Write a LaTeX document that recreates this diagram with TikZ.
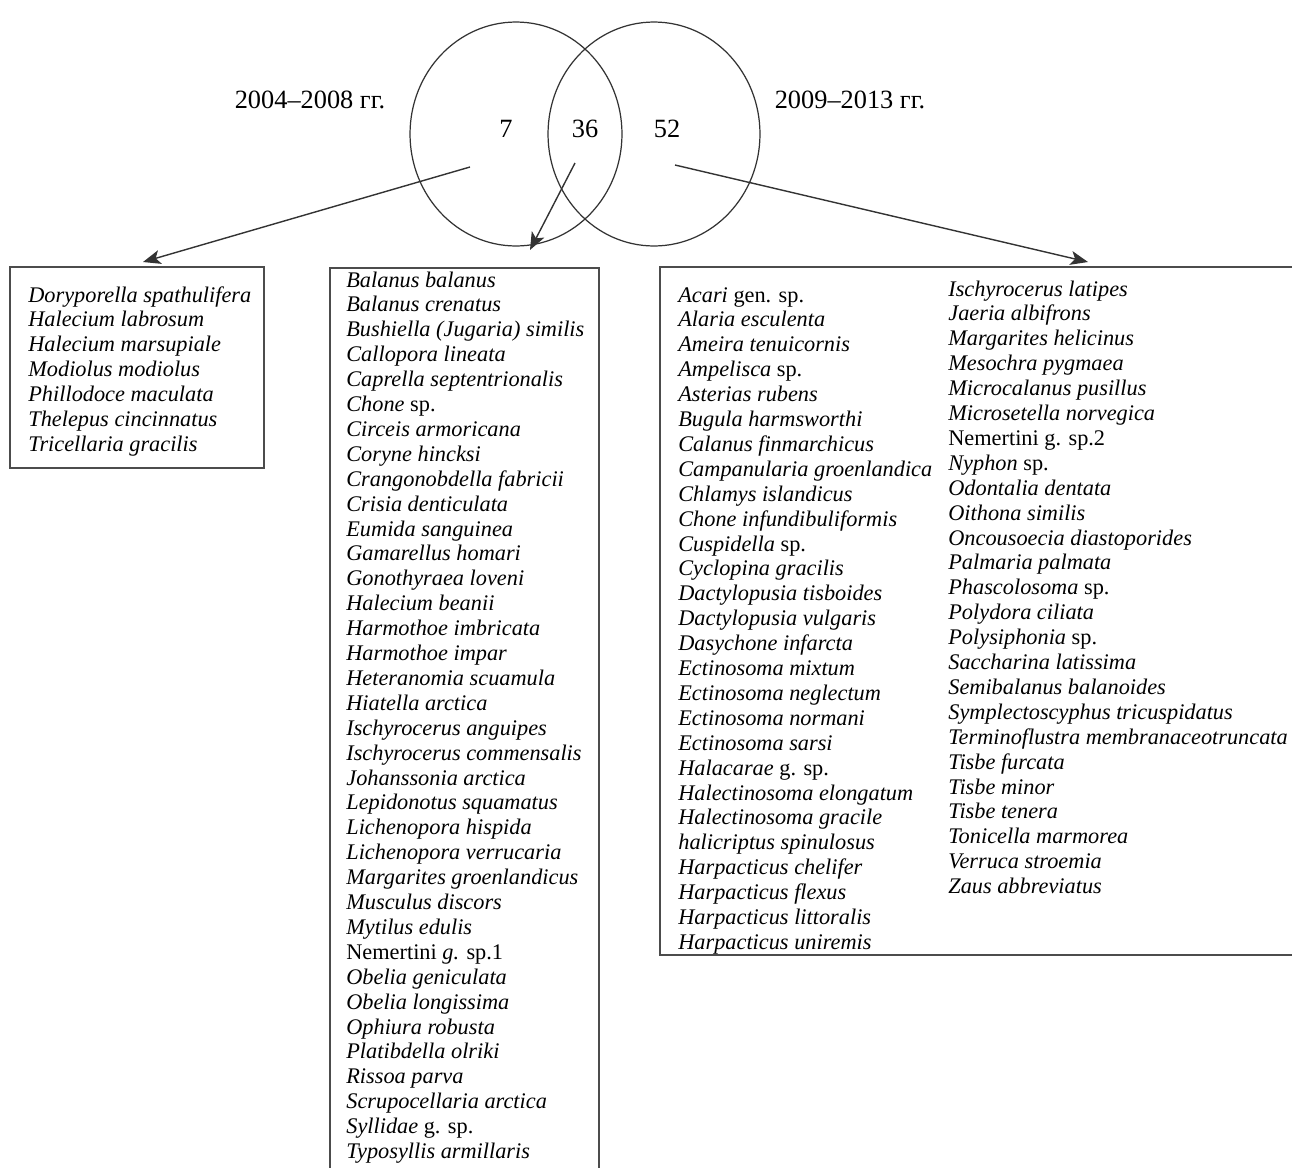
\documentclass[tikz,border=0pt]{standalone}
\usepackage{fontspec}
\setmainfont{Liberation Serif}
\usetikzlibrary{arrows.meta}
\tikzset{
    set circle/.style={draw=black!80, line width=0.7pt},
    list box/.style={draw=black!70, line width=1pt},
    taxon/.style={anchor=base west, inner sep=0pt, font=\fontsize{12.7}{14}\selectfont\itshape},
    period label/.style={anchor=base, inner sep=0pt, font=\fontsize{15}{17}\selectfont},
    count label/.style={period label},
    arr/.style={-{Stealth[length=10pt,width=8pt,inset=2.5pt]}, black!80, line width=0.8pt},
}

\begin{document}
\begin{tikzpicture}[x=0.02cm,y=-0.02cm]
    \useasboundingbox (0,0) rectangle (1292,1167);
    \clip (0,0) rectangle (1292,1167);

    % Venn diagram
    \coordinate (early) at (516,134);
    \coordinate (late) at (654,134);
    \draw[set circle] (early) ellipse [x radius=2.12cm, y radius=2.24cm];
    \draw[set circle] (late) ellipse [x radius=2.12cm, y radius=2.24cm];

    \node[period label] (early label) at (310,108) {2004--2008 гг.};
    \node[period label] (late label) at (850,108) {2009--2013 гг.};
    \node[count label] (only early) at (506,137) {7};
    \node[count label] (both) at (585,137) {36};
    \node[count label] (only late) at (667,137) {52};

    % arrows to the lists
    \coordinate (from early) at (470,167);
    \coordinate (to early) at (143,262);
    \coordinate (from both) at (575,163);
    \coordinate (to both) at (530,250);
    \coordinate (from late) at (675,165);
    \coordinate (to late) at (1088,262);
    \draw[arr] (from early) -- (to early);
    \draw[arr] (from both) -- (to both);
    \draw[arr] (from late) -- (to late);

    % boxes
    \draw[list box] (10,267) rectangle (264,468);
    \draw[list box] (330,268) rectangle (599,1190);
    \draw[list box] (660,267) rectangle (1310,955);

    % 2004--2008 only
    \foreach \name [count=\i from 0] in {Doryporella spathulifera, Halecium labrosum,
        Halecium marsupiale, Modiolus modiolus, Phillodoce maculata,
        Thelepus cincinnatus, Tricellaria gracilis}
        \node[taxon] (early\i) at ({28},{302+24.9*\i}) {\name};

    % both periods
    \foreach \name [count=\i from 0] in {Balanus balanus, Balanus crenatus,
        Bushiella (Jugaria) similis, Callopora lineata, Caprella septentrionalis,
        Chone \textup{sp.}, Circeis armoricana, Coryne hincksi,
        Crangonobdella fabricii, Crisia denticulata, Eumida sanguinea,
        Gamarellus homari, Gonothyraea loveni, Halecium beanii,
        Harmothoe imbricata, Harmothoe impar, Heteranomia scuamula,
        Hiatella arctica, Ischyrocerus anguipes, Ischyrocerus commensalis,
        Johanssonia arctica, Lepidonotus squamatus, Lichenopora hispida,
        Lichenopora verrucaria, Margarites groenlandicus, Musculus discors,
        Mytilus edulis, \textup{Nemertini} g. \textup{sp.1}, Obelia geniculata,
        Obelia longissima, Ophiura robusta, Platibdella olriki, Rissoa parva,
        Scrupocellaria arctica, Syllidae \textup{g. sp.}, Typosyllis armillaris}
        \node[taxon] (both\i) at ({346},{287+24.9*\i}) {\name};

    % 2009--2013 only, first column
    \foreach \name [count=\i from 0] in {Acari \textup{gen. sp.}, Alaria esculenta,
        Ameira tenuicornis, Ampelisca \textup{sp.}, Asterias rubens,
        Bugula harmsworthi, Calanus finmarchicus, Campanularia groenlandica,
        Chlamys islandicus, Chone infundibuliformis, Cuspidella \textup{sp.},
        Cyclopina gracilis, Dactylopusia tisboides, Dactylopusia vulgaris,
        Dasychone infarcta, Ectinosoma mixtum, Ectinosoma neglectum,
        Ectinosoma normani, Ectinosoma sarsi, Halacarae \textup{g. sp.},
        Halectinosoma elongatum, Halectinosoma gracile, halicriptus spinulosus,
        Harpacticus chelifer, Harpacticus flexus, Harpacticus littoralis,
        Harpacticus uniremis}
        \node[taxon] (lateA\i) at ({678},{302+24.9*\i}) {\name};

    % 2009--2013 only, second column
    \foreach \name [count=\i from 0] in {Ischyrocerus latipes, Jaeria albifrons,
        Margarites helicinus, Mesochra pygmaea, Microcalanus pusillus,
        Microsetella norvegica, \textup{Nemertini g. sp.2}, Nyphon \textup{sp.},
        Odontalia dentata, Oithona similis, Oncousoecia diastoporides,
        Palmaria palmata, Phascolosoma \textup{sp.}, Polydora ciliata,
        Polysiphonia \textup{sp.}, Saccharina latissima, Semibalanus balanoides,
        Symplectoscyphus tricuspidatus, Terminoflustra membranaceotruncata,
        Tisbe furcata, Tisbe minor, Tisbe tenera, Tonicella marmorea,
        Verruca stroemia, Zaus abbreviatus}
        \node[taxon] (lateB\i) at ({948},{296+24.9*\i}) {\name};
\end{tikzpicture}
\end{document}
